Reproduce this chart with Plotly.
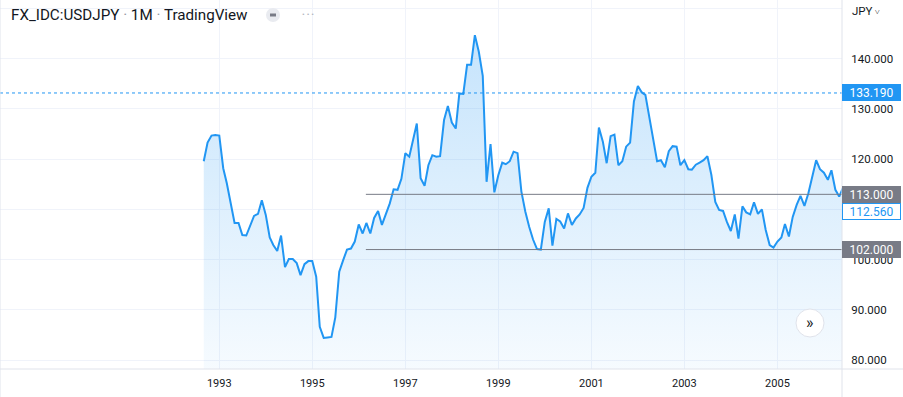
import pandas as pd
import plotly.graph_objects as go

# ---- data (monthly closes, Sep 1992 .. Jun 2006) ----
start_month = "1992-09-01"
closes = [
    119.6, 123.3, 124.7, 124.8,
    124.7, 118.2, 115.2, 111.5, 107.3, 107.3, 104.9, 104.8, 106.6, 108.7, 109.1, 111.8,
    108.9, 104.4, 102.9, 101.7, 104.8, 98.5, 100.1, 100.1, 99.3, 96.9, 99.1, 99.7,
    99.7, 96.6, 86.6, 84.4, 84.5, 84.6, 88.5, 97.6, 99.9, 102.0, 102.2, 103.6,
    107.0, 105.2, 107.3, 105.2, 108.3, 109.7, 106.9, 109.0, 111.2, 114.0, 113.9, 116.1,
    121.2, 120.5, 123.6, 127.1, 116.2, 114.7, 118.8, 120.8, 120.5, 120.6, 127.8, 130.6,
    127.3, 126.1, 133.1, 133.0, 138.8, 138.8, 144.7, 141.4, 136.6, 115.5, 123.0, 113.4,
    116.8, 119.3, 119.0, 119.6, 121.5, 121.2, 113.6, 109.6, 106.5, 104.0, 102.1, 102.0,
    107.5, 110.2, 102.8, 108.1, 107.6, 106.2, 109.2, 106.9, 108.2, 109.0, 110.3, 114.3,
    116.5, 117.3, 126.3, 123.5, 119.2, 124.6, 124.9, 118.8, 119.6, 122.5, 123.3, 131.5,
    134.6, 133.3, 132.8, 128.5, 124.5, 119.6, 119.8, 118.4, 121.6, 122.6, 122.5, 118.8,
    119.8, 118.0, 117.9, 118.9, 119.3, 119.8, 120.6, 116.9, 111.5, 109.9, 109.7, 107.5,
    105.7, 109.0, 104.2, 110.6, 109.4, 109.0, 111.4, 109.1, 110.0, 105.9, 102.9, 102.4,
    103.6, 104.4, 107.1, 104.6, 108.5, 110.9, 112.7, 110.7, 113.2, 116.2, 119.8, 118.0,
    117.3, 115.9, 117.8, 113.9, 112.56, 114.4,
]
months = pd.date_range(start_month, periods=len(closes), freq="MS")

year_ticks = ["1993", "1995", "1997", "1999", "2001", "2003", "2005"]
price_ticks = [80, 90, 100, 110, 120, 130, 140, 150]
price_tick_text = ["80.000", "90.000", "100.000", "110.000", "120.000", "130.000", "140.000", ""]

level_values = [113.0, 102.0]
level_start = "1996-02-26"
dotted_level = 133.19
last_value = 112.56

title_text = "FX_IDC:USDJPY <span style='color:#9598A1'>·</span> 1M <span style='color:#9598A1'>·</span> TradingView"

BLUE = "#2196F3"
GREY = "#787B86"
TEXT = "#131722"
GRID = "#F0F3FA"
FONT = "Roboto"

x_range = ["1988-04-15", "2006-05-23"]
y_range = [78.21, 151.71]

fig = go.Figure()
fig.add_trace(go.Scatter(
    x=months, y=closes, mode="lines",
    line=dict(color=BLUE, width=2),
    fill="tozeroy",
    fillgradient=dict(type="vertical",
                      colorscale=[[0, "rgba(33,150,243,0.04)"], [1, "rgba(33,150,243,0.26)"]],
                      start=78, stop=145),
    hoverinfo="skip", showlegend=False,
))

shapes = []
for lv in level_values:
    shapes.append(dict(type="line", xref="x", yref="y", x0=level_start, x1=x_range[1],
                       y0=lv, y1=lv, line=dict(color=GREY, width=1), layer="above"))
shapes.append(dict(type="line", xref="paper", yref="y", x0=0, x1=1, y0=dotted_level, y1=dotted_level,
                   line=dict(color=BLUE, width=1, dash="dot"), layer="above"))
shapes.append(dict(type="line", xref="paper", yref="paper", x0=0, x1=1.08, y0=0, y1=0,
                   line=dict(color="#E0E3EB", width=1)))
shapes.append(dict(type="line", xref="paper", yref="paper", x0=1, x1=1, y0=-0.08, y1=1,
                   line=dict(color="#E0E3EB", width=1)))
shapes.append(dict(type="line", xref="paper", yref="paper", x0=0, x1=0, y0=-0.08, y1=1,
                   line=dict(color="#E0E3EB", width=1)))
shapes.append(dict(type="circle", xref="paper", yref="paper", xsizemode="pixel", ysizemode="pixel",
                   xanchor=0, yanchor=1, x0=266, x1=280, y0=-22, y1=-8,
                   fillcolor="#E9EBF0", line=dict(width=0)))
shapes.append(dict(type="line", xref="paper", yref="paper", xsizemode="pixel", ysizemode="pixel",
                   xanchor=0, yanchor=1, x0=270, x1=276, y0=-15, y1=-15,
                   line=dict(color=GREY, width=3)))
shapes.append(dict(type="circle", xref="paper", yref="paper", xsizemode="pixel", ysizemode="pixel",
                   xanchor=0, yanchor=0, x0=796, x1=824, y0=32, y1=60,
                   fillcolor="white", line=dict(color="#E0E3EB", width=1)))

annotations = [
    dict(text=title_text, xref="paper", yref="paper", x=0, y=1, xanchor="left", yanchor="middle",
         xshift=9, yshift=-15, showarrow=False, font=dict(family=FONT, size=15.2, color=TEXT)),
    dict(text="• • •", xref="paper", yref="paper", x=0, y=1, xanchor="left", yanchor="middle",
         xshift=300, yshift=-14, showarrow=False, font=dict(family=FONT, size=8, color="#B2B5BE")),
    dict(text="JPY<span style='font-size:9px'> ˅</span>", xref="paper", yref="paper", x=1, y=1,
         xanchor="left", yanchor="middle", xshift=8, yshift=-11, showarrow=False,
         font=dict(family=FONT, size=11.5, color=TEXT)),
    dict(text="»", xref="paper", yref="paper", x=0, y=0, xanchor="center", yanchor="middle",
         xshift=810, yshift=47, showarrow=False, font=dict(family=FONT, size=16, color=TEXT)),
]


def price_label(value, bg, fg, border=None, yshift=0):
    return dict(text=f"{value:.3f}", xref="paper", yref="y", x=1, y=value,
                xanchor="left", yanchor="middle", xshift=0, yshift=yshift, showarrow=False,
                bgcolor=bg, bordercolor=border or bg, borderwidth=1, borderpad=1,
                width=55, height=13, align="center",
                font=dict(family=FONT, size=12, color=fg))


annotations.append(price_label(dotted_level, BLUE, "white"))
annotations.append(price_label(level_values[0], GREY, "white"))
annotations.append(price_label(level_values[1], GREY, "white"))
annotations.append(price_label(last_value, "white", BLUE, border=BLUE, yshift=-15))

fig.update_layout(
    width=903, height=397,
    margin=dict(l=0, r=61, t=0, b=28),
    paper_bgcolor="white", plot_bgcolor="white",
    font=dict(family=FONT, color=TEXT),
    shapes=shapes, annotations=annotations,
    xaxis=dict(type="date", range=x_range,
               tickvals=[f"{y}-01-01" for y in year_ticks], ticktext=year_ticks,
               showgrid=True, gridcolor=GRID, gridwidth=1, zeroline=False, showline=False,
               ticks="outside", ticklen=4, tickcolor="rgba(0,0,0,0)",
               tickfont=dict(family=FONT, size=11, color=TEXT), fixedrange=True),
    yaxis=dict(side="right", range=y_range, tickvals=price_ticks, ticktext=price_tick_text,
               showgrid=True, gridcolor=GRID, gridwidth=1, zeroline=False, showline=False,
               ticks="outside", ticklen=6, tickcolor="rgba(0,0,0,0)",
               tickfont=dict(family=FONT, size=11.5, color=TEXT), fixedrange=True),
)

fig.write_html("out.html", config={"displayModeBar": False},
               post_script="document.body.style.margin='0';document.body.style.overflow='hidden';")
